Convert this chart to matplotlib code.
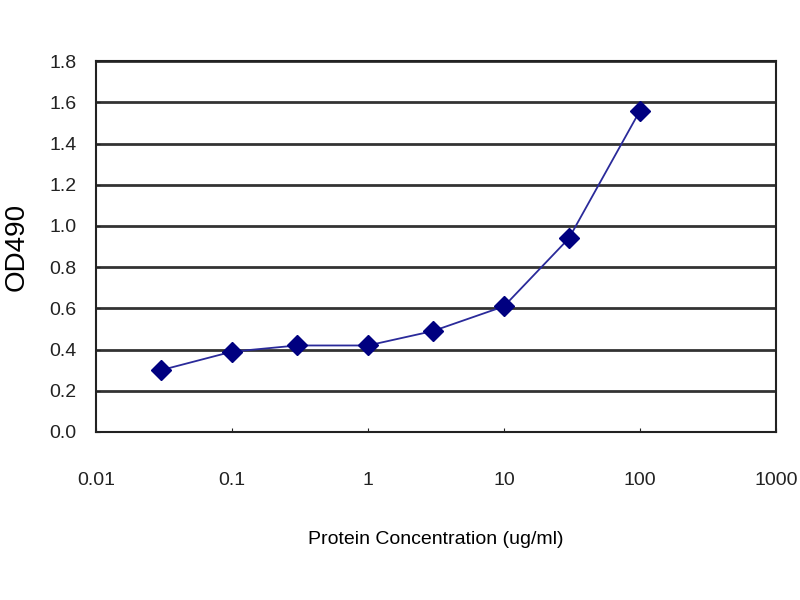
import matplotlib
matplotlib.use("Agg")
import matplotlib.pyplot as plt
from matplotlib.ticker import FixedLocator, FixedFormatter, NullLocator

plt.rcParams['font.family'] = ['Liberation Sans', 'DejaVu Sans']

# protein concentration (ug/ml) and measured OD490
conc = [0.03, 0.1, 0.3, 1, 3, 10, 30, 100]
od490 = [0.30, 0.39, 0.42, 0.42, 0.49, 0.61, 0.94, 1.56]

x_ticks = [0.01, 0.1, 1, 10, 100, 1000]
x_labels = ['0.01', '0.1', '1', '10', '100', '1000']
y_ticks = [0.0, 0.2, 0.4, 0.6, 0.8, 1.0, 1.2, 1.4, 1.6, 1.8]

fig = plt.figure(figsize=(8, 6), dpi=100)
ax = fig.add_axes([0.12, 0.28, 0.85, 0.618])

ax.plot(conc, od490, color='#2a2a9a', linewidth=1.3,
        marker='D', markersize=10, markerfacecolor='#000080',
        markeredgecolor='#000080', zorder=3)

ax.set_xscale('log')
ax.set_xlim(0.01, 1000)
ax.set_ylim(0, 1.8)
ax.xaxis.set_major_locator(FixedLocator(x_ticks))
ax.xaxis.set_major_formatter(FixedFormatter(x_labels))
ax.xaxis.set_minor_locator(NullLocator())
ax.set_yticks(y_ticks)
ax.set_yticklabels(['%.1f' % v for v in y_ticks])

for v in y_ticks[1:]:
    ax.axhline(v, color='#333333', linewidth=2.0, zorder=1)

for s in ax.spines.values():
    s.set_color('#222222')
    s.set_linewidth(1.5)

ax.tick_params(axis='both', labelsize=14, length=3, direction='in', colors='#222222')
ax.tick_params(axis='x', pad=29)
ax.tick_params(axis='y', pad=14)

ax.set_ylabel('OD490', fontsize=20)
ax.yaxis.set_label_coords(-0.098, 0.5)
ax.set_xlabel('Protein Concentration (ug/ml)', fontsize=14, labelpad=30)

fig.savefig('out.png', dpi=100)
